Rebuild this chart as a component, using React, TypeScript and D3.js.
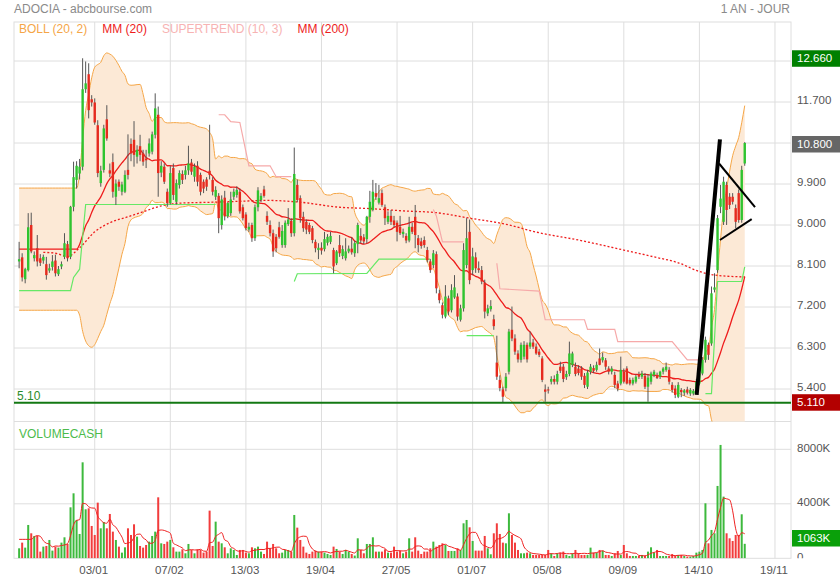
import * as d3 from 'd3';
import React, { useEffect, useRef } from 'react';

// daily candles: [open, high, low, close]
const ohlc: [number, number, number, number][] = [
   [8.2, 8.63, 8.05, 8.25], [8.29, 8.38, 7.76, 7.85], [7.81, 8.06, 7.72, 8.03], [8.01, 9.26, 7.98, 8.95], [9.0, 9.27, 8.38, 8.42],
   [8.27, 8.42, 8.2, 8.34], [8.49, 8.78, 8.09, 8.2], [8.27, 8.36, 8.1, 8.17], [8.22, 8.35, 8.15, 8.3], [8.14, 8.3, 7.8, 7.9],
   [8.0, 8.15, 7.95, 8.05], [8.08, 8.34, 8.0, 8.2], [8.22, 8.35, 7.87, 7.94], [7.92, 8.1, 7.88, 8.03], [8.09, 8.2, 8.03, 8.14],
   [8.3, 8.82, 8.25, 8.6], [8.58, 8.65, 8.2, 8.27], [8.3, 9.42, 8.25, 9.4], [9.4, 10.39, 9.3, 10.05], [9.99, 10.4, 9.8, 10.3],
   [10.13, 10.45, 10.0, 10.28], [10.28, 12.66, 10.2, 11.98], [11.98, 12.59, 11.9, 12.11], [12.31, 12.55, 11.34, 11.52], [11.76, 11.85, 11.6, 11.69],
   [11.69, 11.78, 11.2, 11.25], [11.19, 11.3, 10.05, 10.14], [9.92, 10.3, 9.84, 10.19], [10.21, 11.2, 10.15, 11.12], [11.32, 11.63, 10.85, 10.9],
   [10.2, 10.35, 10.05, 10.13], [10.38, 10.57, 9.6, 9.73], [9.62, 10.0, 9.44, 9.91], [9.95, 10.0, 9.75, 9.84], [9.73, 9.95, 9.65, 9.89],
   [9.73, 10.2, 9.7, 10.1], [10.21, 10.99, 10.0, 10.1], [10.78, 10.9, 10.4, 10.57], [10.87, 11.28, 10.28, 10.54], [10.5, 10.75, 10.35, 10.65],
   [10.73, 10.98, 10.4, 10.54], [10.57, 10.65, 10.3, 10.39], [10.46, 10.65, 10.25, 10.42], [10.57, 10.9, 10.5, 10.79], [10.61, 11.05, 10.55, 10.99],
   [10.98, 11.89, 10.9, 11.56], [11.42, 11.6, 9.62, 10.14], [10.15, 10.4, 10.05, 10.3], [10.28, 10.35, 9.9, 9.95], [9.73, 9.8, 9.4, 9.48],
   [9.48, 10.3, 9.45, 10.14], [10.25, 10.35, 9.55, 9.66], [9.51, 10.0, 9.45, 9.92], [9.88, 10.2, 9.8, 10.14], [10.12, 10.2, 9.9, 9.99],
   [10.1, 10.3, 10.0, 10.2], [10.2, 10.74, 10.1, 10.35], [10.37, 10.45, 10.1, 10.17], [10.06, 10.35, 9.95, 10.28], [10.3, 10.4, 9.85, 9.95],
   [10.1, 10.15, 9.65, 9.73], [9.95, 10.0, 9.7, 9.8], [10.0, 10.05, 9.75, 9.84], [10.19, 11.2, 10.0, 10.1], [9.99, 10.05, 9.65, 9.73],
   [9.62, 9.85, 9.55, 9.77], [9.64, 9.7, 8.82, 9.15], [9.0, 9.65, 8.9, 9.56], [9.6, 9.75, 9.1, 9.19], [9.19, 9.5, 9.15, 9.48],
   [9.26, 9.73, 9.2, 9.56], [9.62, 9.8, 9.55, 9.73], [9.66, 9.85, 9.6, 9.77], [9.73, 9.8, 9.25, 9.3], [9.39, 9.45, 9.1, 9.15],
   [9.23, 9.28, 8.88, 8.93], [8.9, 9.05, 8.85, 8.96], [9.0, 9.05, 8.63, 8.71], [8.71, 9.45, 8.65, 9.39], [9.39, 9.83, 9.3, 9.76],
   [9.55, 9.7, 9.5, 9.64], [9.78, 9.86, 9.6, 9.64], [9.2, 9.3, 9.0, 9.07], [9.0, 9.1, 8.75, 8.82], [8.82, 8.9, 8.3, 8.42],
   [8.74, 8.8, 8.4, 8.49], [8.95, 9.07, 8.7, 8.74], [8.56, 9.0, 8.5, 8.87], [8.56, 9.1, 8.5, 9.05], [9.02, 9.37, 8.98, 9.12],
   [9.09, 9.15, 8.74, 8.82], [8.82, 10.7, 8.75, 10.12], [9.88, 10.0, 9.5, 9.55], [9.59, 9.65, 9.05, 9.15], [9.18, 9.29, 8.85, 8.93],
   [9.07, 9.12, 8.8, 8.9], [9.0, 9.05, 8.8, 8.85], [8.93, 8.98, 8.6, 8.67], [8.63, 8.68, 8.4, 8.49], [8.45, 8.6, 8.25, 8.5],
   [8.5, 8.62, 8.35, 8.44], [8.47, 8.85, 8.42, 8.69], [8.61, 8.8, 8.55, 8.74], [8.63, 8.85, 8.58, 8.76], [8.45, 8.5, 7.94, 8.09],
   [8.16, 8.45, 8.12, 8.42], [8.56, 8.78, 8.3, 8.38], [8.32, 8.55, 8.25, 8.47], [8.27, 8.71, 8.22, 8.42], [8.42, 8.55, 8.38, 8.48],
   [8.48, 8.73, 8.35, 8.4], [8.38, 8.65, 8.3, 8.6], [8.58, 9.05, 8.38, 9.0], [8.76, 8.93, 8.6, 8.66], [8.73, 8.8, 8.58, 8.64],
   [8.69, 9.2, 8.6, 9.18], [9.18, 9.75, 9.05, 9.51], [9.33, 9.99, 9.3, 9.73], [9.7, 9.92, 9.55, 9.62], [9.49, 9.88, 9.45, 9.59],
   [9.7, 9.78, 9.4, 9.44], [9.39, 9.45, 9.0, 9.15], [9.07, 9.3, 9.02, 9.2], [9.2, 9.33, 9.0, 9.07], [9.1, 9.2, 8.95, 9.0],
   [9.05, 9.1, 8.64, 8.85], [8.96, 9.2, 8.78, 8.82], [8.8, 8.92, 8.72, 8.85], [8.76, 8.82, 8.6, 8.66], [8.66, 9.18, 8.62, 8.96],
   [8.96, 9.05, 8.8, 8.85], [9.18, 9.44, 8.49, 8.78], [8.71, 8.78, 8.4, 8.56], [8.64, 8.72, 8.48, 8.54], [8.67, 8.75, 8.5, 8.56],
   [8.45, 8.52, 8.18, 8.23], [8.2, 8.25, 7.95, 8.01], [8.12, 8.45, 8.05, 8.38], [8.36, 8.42, 7.5, 7.61], [7.5, 7.58, 7.28, 7.35],
   [7.24, 7.3, 6.95, 7.03], [6.99, 7.68, 6.95, 7.43], [7.39, 7.45, 7.02, 7.1], [7.13, 7.7, 7.08, 7.57], [7.41, 7.9, 7.38, 7.63],
   [7.43, 7.5, 6.9, 6.99], [6.92, 7.25, 6.88, 7.17], [7.17, 8.6, 7.1, 8.45], [8.12, 9.15, 8.05, 8.71], [8.85, 9.12, 7.7, 7.79],
   [8.01, 8.5, 7.9, 8.31], [8.29, 8.4, 7.95, 8.05], [8.05, 8.2, 7.95, 8.01], [8.01, 8.1, 7.7, 7.76], [7.73, 7.8, 6.95, 7.1],
   [7.06, 7.25, 7.0, 7.17], [7.15, 7.35, 7.1, 7.22], [6.93, 7.03, 6.7, 6.78], [5.98, 6.57, 5.6, 5.67], [5.6, 5.7, 5.35, 5.42],
   [5.39, 5.45, 5.11, 5.23], [5.42, 5.75, 5.35, 5.67], [5.78, 6.72, 5.72, 6.66], [6.7, 7.21, 6.45, 6.51], [6.51, 6.6, 6.15, 6.22],
   [6.18, 6.25, 5.98, 6.05], [6.04, 6.42, 5.98, 6.37], [6.11, 6.45, 6.05, 6.37], [6.37, 6.42, 5.98, 6.05], [6.33, 6.66, 6.28, 6.42],
   [6.42, 6.5, 6.28, 6.33], [6.33, 6.4, 6.15, 6.18], [6.22, 6.28, 6.1, 6.15], [6.07, 6.12, 5.55, 5.6], [5.39, 5.5, 5.12, 5.34],
   [5.39, 5.45, 5.3, 5.37], [5.56, 5.68, 5.5, 5.62], [5.62, 5.7, 5.5, 5.56], [5.56, 5.8, 5.5, 5.73], [5.89, 6.0, 5.75, 5.8],
   [5.89, 5.95, 5.55, 5.62], [5.66, 5.8, 5.6, 5.73], [5.73, 6.44, 5.68, 6.18], [5.93, 6.22, 5.88, 6.18], [5.89, 5.98, 5.68, 5.73],
   [5.85, 5.92, 5.7, 5.75], [5.85, 5.9, 5.6, 5.67], [5.69, 5.75, 5.42, 5.49], [5.45, 5.82, 5.4, 5.76], [5.78, 5.95, 5.72, 5.89],
   [5.86, 5.92, 5.75, 5.8], [5.82, 6.0, 5.78, 5.93], [6.07, 6.29, 5.92, 5.93], [6.03, 6.2, 5.98, 6.1], [6.03, 6.08, 5.82, 5.89],
   [5.85, 5.9, 5.72, 5.78], [5.78, 5.9, 5.72, 5.85], [5.71, 5.78, 5.42, 5.49], [5.52, 5.58, 5.35, 5.41], [5.52, 6.11, 5.48, 5.82],
   [5.78, 5.85, 5.52, 5.56], [5.85, 5.9, 5.5, 5.52], [5.6, 5.65, 5.48, 5.52], [5.52, 5.65, 5.48, 5.6], [5.56, 5.72, 5.52, 5.67],
   [5.73, 5.78, 5.62, 5.67], [5.67, 5.8, 5.62, 5.74], [5.69, 5.75, 5.4, 5.45], [5.45, 5.72, 5.12, 5.65], [5.56, 5.78, 5.5, 5.74],
   [5.71, 5.82, 5.66, 5.78], [5.71, 5.76, 5.62, 5.64], [5.67, 5.8, 5.62, 5.78], [5.78, 5.88, 5.72, 5.85], [5.82, 5.98, 5.78, 5.89],
   [5.82, 5.88, 5.5, 5.56], [5.49, 5.55, 5.32, 5.38], [5.41, 5.48, 5.2, 5.27], [5.23, 5.55, 5.2, 5.49], [5.38, 5.42, 5.22, 5.33],
   [5.32, 5.4, 5.25, 5.37], [5.39, 5.45, 5.28, 5.32], [5.3, 5.42, 5.25, 5.38], [5.3, 5.4, 5.26, 5.36], [5.34, 5.62, 5.3, 5.56],
   [5.52, 5.8, 5.48, 5.74], [5.74, 6.1, 5.7, 6.04], [6.04, 6.55, 5.98, 6.48], [6.37, 6.42, 6.04, 6.15], [6.4, 7.65, 6.35, 7.5],
   [7.58, 7.94, 7.52, 7.63], [8.01, 9.22, 7.95, 9.15], [9.4, 9.88, 9.26, 9.58], [9.07, 10.06, 9.0, 9.95], [9.88, 9.95, 9.0, 9.33],
   [9.62, 9.7, 9.35, 9.44], [9.62, 9.7, 9.45, 9.51], [9.37, 9.45, 8.93, 9.07], [9.7, 9.78, 9.05, 9.11], [9.11, 10.3, 9.05, 10.21],
   [10.35, 10.82, 10.3, 10.8],
];

// daily cash volume, thousands
const volumes = [
   734, 1150, 783, 2446, 1835, 1640, 1640, 490, 856, 905,
   1345, 563, 856, 783, 1150, 1541, 1052, 3742, 4770, 2813,
   1786, 7044, 3596, 3669, 2373, 1712, 4085, 2201, 2666, 2201,
   3253, 1957, 1345, 856, 416, 807, 2201, 1712, 2495, 1590,
   905, 783, 978, 1223, 1640, 1957, 4476, 1100, 1052, 1223,
   1345, 807, 490, 490, 660, 367, 1052, 612, 367, 660,
   612, 416, 490, 3498, 905, 2690, 1223, 1100, 807, 367,
   734, 612, 245, 612, 612, 416, 367, 807, 734, 856,
   490, 318, 1223, 734, 1052, 734, 367, 416, 612, 612,
   490, 3180, 2250, 1345, 856, 416, 318, 490, 563, 490,
   490, 416, 318, 245, 856, 685, 490, 318, 612, 490,
   318, 200, 1468, 612, 367, 1052, 1052, 1541, 490, 490,
   490, 660, 416, 416, 856, 490, 563, 367, 490, 1468,
   490, 1541, 563, 318, 490, 490, 734, 1223, 856, 978,
   1100, 978, 538, 538, 538, 734, 612, 2568, 2813, 2275,
   1272, 563, 563, 563, 1640, 734, 294, 1835, 2568, 1786,
   1150, 1100, 3302, 1712, 1150, 612, 367, 367, 416, 367,
   245, 245, 245, 245, 245, 612, 367, 171, 367, 416,
   490, 245, 171, 367, 612, 367, 245, 245, 245, 783,
   416, 416, 612, 563, 245, 245, 171, 367, 538, 245,
   978, 367, 171, 171, 171, 171, 245, 171, 490, 807,
   416, 612, 171, 171, 171, 171, 318, 171, 245, 245,
   171, 120, 120, 171, 416, 489, 612, 4037, 1100, 2080,
   1835, 5310, 8320, 4526, 1835, 1468, 1272, 1713, 1713, 3230,
   1063,
];

// MM (200) read at a few days: [day index, value]
const mm200: [number, number][] = [
   [8, 8.4], [12, 8.38], [16, 8.31], [20, 8.5], [25, 8.85], [30, 9.05], [36, 9.18], [41, 9.29],
   [47, 9.42], [53, 9.48], [64, 9.5], [73, 9.52], [82, 9.54], [93, 9.5], [106, 9.39], [116, 9.36],
   [127, 9.31], [138, 9.27], [149, 9.15], [160, 9.03], [172, 8.83], [185, 8.67], [200, 8.45],
   [210, 8.3], [218, 8.17], [225, 7.98], [230, 7.9], [240, 7.86],
];

// supertrend (10, 3) runs: bullish below price, bearish above
const supertrendUp: [number, number][][] = [
   [[0, 7.56], [17, 7.56], [18, 7.85], [20, 8.03], [22, 9.45], [65, 9.45]],
   [[91, 7.76], [92, 7.93], [115, 7.94], [119, 8.25], [136, 8.25]],
   [[148, 6.57], [157, 6.57]],
   [[227, 5.3], [229, 5.3], [230, 6.5], [231, 7.76], [239, 7.76], [240, 8.08]],
];
const supertrendDown: [number, number][][] = [
   [[66, 11.42], [68, 11.42], [70, 11.27], [73, 11.25], [76, 10.3], [83, 10.3], [85, 10.06], [90, 10.06]],
   [[137, 9.34], [138, 9.2], [140, 8.63], [147, 8.63]],
   [[158, 8.16], [159, 7.6], [172, 7.55], [174, 6.92], [187, 6.92], [188, 6.71], [197, 6.71],
      [198, 6.44], [216, 6.44], [221, 6.04], [225, 6.04]],
];

// hand-drawn flag: pole then the two pennant lines
const trendLines: [number, number][][] = [
   [[224.1, 5.27], [231.8, 10.88]],
   [[231.5, 10.35], [243.4, 9.39]],
   [[231.8, 8.67], [242.3, 9.13]],
];

const supportLevel = 5.1;
const dateTicks = [25, 50, 75, 100, 125, 150, 175, 200, 225, 250];
const dateLabels = ['03/01', '07/02', '13/03', '19/04', '27/05', '01/07', '05/08', '09/09', '14/10', '19/11'];
const priceTicks = [5.4, 6.3, 7.2, 8.1, 9.0, 9.9, 10.8, 11.7, 12.6];
const volumeTicks = [0, 4000, 8000];
const legendLabels = ['BOLL (20, 2)', 'MM (20)', 'SUPERTREND (10, 3)', 'MM (200)'];

const FONT = '"Liberation Sans", Arial, sans-serif';
const GREEN = '#2fc42f';
const RED = '#e62a1e';

const App = () => {
   const svgRef = useRef<SVGSVGElement | null>(null);

   useEffect(() => {
      if (!svgRef.current) {
         return;
      }
      const svg = d3.select(svgRef.current);
      svg.selectAll('*').remove();

      const left = 14;
      const right = 791;
      const priceTop = 22;
      const priceBottom = 421.5;
      const volBottom = 558.3;

      const x = d3.scaleLinear().domain([-1.7, 255.3]).range([left, right]);
      const y = d3.scaleLinear().domain([4.5, 12.6]).range([430, 61]);
      const yVol = d3.scaleLinear().domain([0, 8000]).range([volBottom, 449.3]);

      const defs = svg.append('defs');
      defs.append('clipPath').attr('id', 'clip-price')
         .append('rect').attr('x', left).attr('y', priceTop)
         .attr('width', right - left).attr('height', priceBottom - priceTop);
      defs.append('clipPath').attr('id', 'clip-vol')
         .append('rect').attr('x', left).attr('y', priceBottom)
         .attr('width', right - left).attr('height', volBottom - priceBottom);
      defs.append('clipPath').attr('id', 'clip-vol-axis')
         .append('rect').attr('x', right).attr('y', priceBottom)
         .attr('width', 60).attr('height', volBottom - priceBottom);

      svg.append('rect').attr('width', 840).attr('height', 580).attr('fill', '#fff');

      // grid
      const grid = svg.append('g').attr('stroke', '#dedede').attr('stroke-width', 1);
      dateTicks.forEach((t) => {
         grid.append('line').attr('x1', x(t)).attr('x2', x(t)).attr('y1', priceTop).attr('y2', volBottom);
      });
      priceTicks.forEach((t) => {
         grid.append('line').attr('x1', left).attr('x2', right).attr('y1', y(t)).attr('y2', y(t));
      });
      volumeTicks.slice(1).forEach((t) => {
         grid.append('line').attr('x1', left).attr('x2', right).attr('y1', yVol(t)).attr('y2', yVol(t));
      });
      grid.append('rect').attr('x', left).attr('y', priceTop)
         .attr('width', right - left).attr('height', volBottom - priceTop).attr('fill', 'none');
      grid.append('line').attr('x1', left).attr('x2', right).attr('y1', priceBottom).attr('y2', priceBottom);

      // indicators computed from the closes
      const closes = ohlc.map((d) => d[3]);
      const boll = closes.map((_, i) => {
         const win = closes.slice(Math.max(0, i - 19), Math.max(20, i + 1));
         const m = d3.mean(win) as number;
         const sd = Math.sqrt(d3.mean(win, (v) => (v - m) ** 2) as number);
         return { i, mid: m, up: m + 2 * sd, lo: m - 2 * sd };
      });

      const price = svg.append('g').attr('clip-path', 'url(#clip-price)');

      const bandArea = d3.area<{ i: number; up: number; lo: number }>()
         .x((d) => x(d.i)).y0((d) => y(d.lo)).y1((d) => y(d.up))
         .curve(d3.curveMonotoneX);
      price.append('path').datum(boll).attr('d', bandArea).attr('fill', '#fce9d6');

      const bandLine = (key: 'up' | 'lo' | 'mid') => d3.line<{ i: number; up: number; lo: number; mid: number }>()
         .x((d) => x(d.i)).y((d) => y(d[key])).curve(d3.curveMonotoneX);
      ['up', 'lo'].forEach((k) => {
         price.append('path').datum(boll).attr('d', bandLine(k as 'up' | 'lo'))
            .attr('fill', 'none').attr('stroke', '#f5a647').attr('stroke-width', 1);
      });

      const pointLine = d3.line<[number, number]>().x((d) => x(d[0])).y((d) => y(d[1]));

      price.append('path').datum(mm200)
         .attr('d', pointLine.curve(d3.curveMonotoneX))
         .attr('fill', 'none').attr('stroke', '#ee1c1c').attr('stroke-width', 1.3)
         .attr('stroke-dasharray', '2,2');

      price.append('path').datum(boll).attr('d', bandLine('mid'))
         .attr('fill', 'none').attr('stroke', '#ee1c1c').attr('stroke-width', 1.3);

      pointLine.curve(d3.curveLinear);
      supertrendUp.forEach((seg) => {
         price.append('path').datum(seg).attr('d', pointLine)
            .attr('fill', 'none').attr('stroke', '#66e866').attr('stroke-width', 1.2);
      });
      supertrendDown.forEach((seg) => {
         price.append('path').datum(seg).attr('d', pointLine)
            .attr('fill', 'none').attr('stroke', '#f6a9a9').attr('stroke-width', 1.2);
      });

      // candles
      const candles = price.append('g');
      ohlc.forEach(([o, h, l, c], i) => {
         const cx = x(i);
         candles.append('line').attr('x1', cx).attr('x2', cx).attr('y1', y(h)).attr('y2', y(l))
            .attr('stroke', '#555').attr('stroke-width', 1);
         const top = y(Math.max(o, c));
         candles.append('rect').attr('x', cx - 1.2).attr('width', 2.4)
            .attr('y', top).attr('height', Math.max(1, y(Math.min(o, c)) - top))
            .attr('fill', c >= o ? GREEN : RED);
      });

      // support level
      price.append('line').attr('x1', left).attr('x2', right)
         .attr('y1', y(supportLevel)).attr('y2', y(supportLevel))
         .attr('stroke', '#137813').attr('stroke-width', 2);
      svg.append('text').attr('x', 17).attr('y', y(supportLevel) - 3)
         .attr('font-family', FONT).attr('font-size', 12).attr('fill', '#2a8c2a')
         .text(supportLevel.toFixed(2));

      trendLines.forEach((seg, k) => {
         price.append('path').datum(seg).attr('d', pointLine)
            .attr('fill', 'none').attr('stroke', '#000').attr('stroke-width', k === 0 ? 4 : 2);
      });

      // legend
      const legendColors = ['#f5a647', '#ee1c1c', '#f7b3b3', '#ee1c1c'];
      let lx = 19;
      legendLabels.forEach((label, k) => {
         const t = svg.append('text').attr('x', lx).attr('y', 33)
            .attr('font-family', FONT).attr('font-size', 12).attr('fill', legendColors[k])
            .text(label);
         lx += (t.node() as SVGTextElement).getComputedTextLength() + 15;
      });

      // volume panel
      const vol = svg.append('g').attr('clip-path', 'url(#clip-vol)');
      volumes.forEach((v, i) => {
         const up = ohlc[i][3] >= ohlc[i][0];
         vol.append('rect').attr('x', x(i) - 1).attr('width', 2)
            .attr('y', yVol(v)).attr('height', volBottom - yVol(v))
            .attr('fill', up ? '#3db93d' : '#f23c3c');
      });
      const volMa = volumes.map((_, i) => {
         const win = volumes.slice(Math.max(0, i - 4), Math.max(5, i + 1));
         return [i, d3.mean(win) as number] as [number, number];
      });
      vol.append('path').datum(volMa)
         .attr('d', d3.line<[number, number]>().x((d) => x(d[0])).y((d) => yVol(d[1])).curve(d3.curveMonotoneX))
         .attr('fill', 'none').attr('stroke', '#ee2222').attr('stroke-width', 1);
      svg.append('text').attr('x', 19).attr('y', 438)
         .attr('font-family', FONT).attr('font-size', 12).attr('fill', '#4cbb4c')
         .text('VOLUMECASH');

      // value badges on the right (they replace the tick label they cover)
      const maxHigh = d3.max(ohlc, (d) => d[1]) as number;
      const minLow = d3.min(ohlc, (d) => d[2]) as number;
      const lastClose = closes[closes.length - 1];
      const lastVol = volumes[volumes.length - 1];
      const priceBadges: [number, string][] = [
         [maxHigh, '#008000'],
         [lastClose, '#666'],
         [minLow, '#b30000'],
      ];

      // axes labels
      const axisText = (g: d3.Selection<any, unknown, null, undefined>) =>
         g.attr('font-family', FONT).attr('font-size', 11.5).attr('fill', '#555');
      const priceAxis = axisText(svg.append('g'));
      priceTicks
         .filter((t) => priceBadges.every(([v]) => Math.abs(y(v) - y(t)) > 10))
         .forEach((t) => {
            priceAxis.append('text').attr('x', 797).attr('y', y(t) + 2).text(d3.format('.3f')(t));
         });
      const volAxis = axisText(svg.append('g').attr('clip-path', 'url(#clip-vol-axis)'));
      volumeTicks.forEach((t) => {
         volAxis.append('text').attr('x', 797).attr('y', yVol(t) + 2.5).text(t === 0 ? '0' : `${t}K`);
      });
      const dateAxis = axisText(svg.append('g')).attr('text-anchor', 'middle');
      dateTicks.forEach((t, k) => {
         dateAxis.append('text').attr('x', x(t) - 1).attr('y', 574).text(dateLabels[k]);
      });

      const badge = (cy: number, label: string, fill: string) => {
         svg.append('rect').attr('x', 792).attr('y', cy - 8).attr('width', 48).attr('height', 16.5).attr('fill', fill);
         svg.append('text').attr('x', 797).attr('y', cy + 4)
            .attr('font-family', FONT).attr('font-size', 11.5).attr('fill', '#fff').text(label);
      };
      priceBadges.forEach(([v, fill]) => badge(y(v) + (v === lastClose ? 1 : 0), d3.format('.3f')(v), fill));
      badge(Math.min(yVol(lastVol), 538), `${lastVol}K`, '#0aa00a');

      // header
      svg.append('text').attr('x', 14).attr('y', 13)
         .attr('font-family', FONT).attr('font-size', 12).attr('fill', '#8a8a8a')
         .text('ADOCIA - abcbourse.com');
      svg.append('text').attr('x', 790).attr('y', 13).attr('text-anchor', 'end')
         .attr('font-family', FONT).attr('font-size', 12).attr('fill', '#8a8a8a')
         .text('1 AN - JOUR');
   }, []);

   return (
      <svg
         ref={svgRef}
         width={840}
         height={580}
         style={{ position: 'absolute', left: 0, top: 0, background: '#fff' }}
      />
   );
};

export default App;
